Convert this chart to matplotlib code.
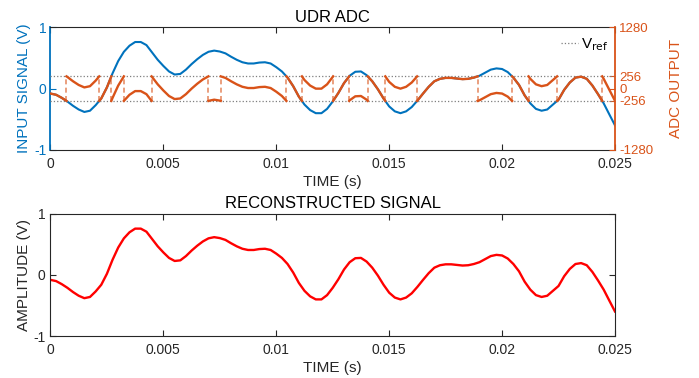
import numpy as np
import matplotlib
matplotlib.use('Agg')
import matplotlib.pyplot as plt

plt.rcParams['font.family'] = ['Liberation Sans', 'DejaVu Sans']

# ---------------- data ----------------
time_s = np.linspace(0.0, 0.025, 101)
input_signal = [
    -0.08, -0.10, -0.15, -0.21, -0.28, -0.34, -0.38, -0.36, -0.27, -0.16,
    0.02, 0.25, 0.45, 0.60, 0.70, 0.76, 0.76, 0.71, 0.59, 0.47,
    0.37, 0.28, 0.23, 0.24, 0.31, 0.40, 0.48, 0.55, 0.601, 0.62,
    0.605, 0.575, 0.52, 0.47, 0.43, 0.41, 0.41, 0.425, 0.43, 0.41,
    0.35, 0.28, 0.18, 0.04, -0.13, -0.26, -0.35, -0.40, -0.40, -0.33,
    -0.21, -0.07, 0.09, 0.21, 0.275, 0.28, 0.22, 0.12, -0.01, -0.16,
    -0.29, -0.37, -0.40, -0.37, -0.30, -0.195, -0.08, 0.03, 0.12, 0.16,
    0.175, 0.175, 0.165, 0.155, 0.16, 0.18, 0.21, 0.26, 0.31, 0.33,
    0.32, 0.27, 0.18, 0.06, -0.11, -0.24, -0.33, -0.36, -0.34, -0.26,
    -0.18, -0.02, 0.10, 0.18, 0.195, 0.16, 0.05, -0.09, -0.24, -0.42,
    -0.598,
]
reconstructed_signal = list(input_signal)
vref = 0.2
adc_full_scale = 1280
adc_vref_code = 256
xticks = [0, 0.005, 0.01, 0.015, 0.02, 0.025]
xtick_labels = ['0', '0.005', '0.01', '0.015', '0.02', '0.025']

BLUE = '#0072BD'
ORANGE = '#D95319'
GREY = '#262626'

# ---------------- modulo (UDR) ADC output ----------------
t = np.asarray(time_s)
v = np.asarray(input_signal)
band = 2 * vref
fold = np.mod(v + vref, band) - vref
k = np.floor((v + vref) / band)
ft, fy, wraps = [], [], []
for i in range(len(t) - 1):
    ft.append(t[i]); fy.append(fold[i])
    if k[i + 1] != k[i]:
        if k[i + 1] > k[i]:
            level = vref + band * k[i]
            before, after = vref, -vref
        else:
            level = -vref + band * k[i]
            before, after = -vref, vref
        tc = t[i] + (level - v[i]) / (v[i + 1] - v[i]) * (t[i + 1] - t[i])
        ft += [tc, tc, tc]
        fy += [before, np.nan, after]
        wraps.append(tc)
ft.append(t[-1]); fy.append(fold[-1])
scale = adc_full_scale / 1.0
fy_codes = np.asarray(fy) * scale

# ---------------- figure ----------------
fig = plt.figure(figsize=(6.99, 3.78), dpi=100)
ax = fig.add_axes([0.0722, 0.6032, 0.8076, 0.3246])
ax2 = ax.twinx()
axb = fig.add_axes([0.0722, 0.1111, 0.8076, 0.3228])

# top panel
ax.plot(t, v, color=BLUE, lw=1.5, zorder=2)
ax.set_xlim(0, 0.025)
ax.set_ylim(-1, 1)
ax.set_yticks([-1, 0, 1])
ax.set_yticklabels(['-1', '0', '1'])
ax.set_xticks(xticks)
ax.set_xticklabels(xtick_labels)
ax.tick_params(axis='x', direction='in', top=True, length=4, colors=GREY, labelsize=10, pad=5)
ax.tick_params(axis='y', direction='in', length=4, colors=BLUE, labelsize=10, pad=3)
ax.set_ylabel('INPUT SIGNAL (V)', color=BLUE, fontsize=11, labelpad=2)
ax.set_xlabel('TIME (s)', color=GREY, fontsize=11, labelpad=3)
ax.set_title('UDR ADC', fontsize=12, color='black', pad=4)
for s in ['top', 'bottom']:
    ax.spines[s].set_color(GREY)
ax.spines['left'].set_color(BLUE)
ax.spines['left'].set_linewidth(1.3)
ax.spines['right'].set_visible(False)

ax2.set_ylim(-adc_full_scale, adc_full_scale)
ax2.axhline(adc_vref_code, color='#7f7f7f', ls=':', lw=0.9, label=r'V$_{\rm ref}$')
ax2.axhline(-adc_vref_code, color='#7f7f7f', ls=':', lw=0.9)
ax2.vlines(wraps, -adc_vref_code, adc_vref_code, colors=ORANGE, linestyles=(0, (3, 2)),
           lw=1.2, alpha=0.65)
ax2.plot(ft, fy_codes, color=ORANGE, lw=1.7)
ax2.set_yticks([-1280, -256, 0, 256, 1280])
ax2.set_yticklabels(['-1280', '-256', '0', '256', '1280'])
ax2.tick_params(axis='y', direction='in', length=4, colors=ORANGE, labelsize=9.5, pad=3)
ax2.set_ylabel('ADC OUTPUT', color=ORANGE, fontsize=11, labelpad=11)
ax2.spines['right'].set_color(ORANGE)
ax2.spines['right'].set_linewidth(1.3)
ax2.spines['left'].set_visible(False)
ax2.spines['top'].set_visible(False)
ax2.spines['bottom'].set_visible(False)
leg = ax2.legend(loc='upper right', frameon=False, fontsize=11, handlelength=1.1,
                 handletextpad=0.25, borderaxespad=0.2, bbox_to_anchor=(1.005, 1.0))

# bottom panel
axb.plot(t, reconstructed_signal, color='red', lw=1.7)
axb.set_xlim(0, 0.025)
axb.set_ylim(-1, 1)
axb.set_yticks([-1, 0, 1])
axb.set_yticklabels(['-1', '0', '1'])
axb.set_xticks(xticks)
axb.set_xticklabels(xtick_labels)
axb.tick_params(direction='in', top=True, right=True, length=4, colors=GREY, labelsize=10)
axb.tick_params(axis='x', pad=5)
axb.set_ylabel('AMPLITUDE (V)', color=GREY, fontsize=11, labelpad=2)
axb.set_xlabel('TIME (s)', color=GREY, fontsize=11, labelpad=3)
axb.set_title('RECONSTRUCTED SIGNAL', fontsize=12, color='black', pad=4)
for s in axb.spines.values():
    s.set_color(GREY)

fig.savefig('out.png', dpi=100)
